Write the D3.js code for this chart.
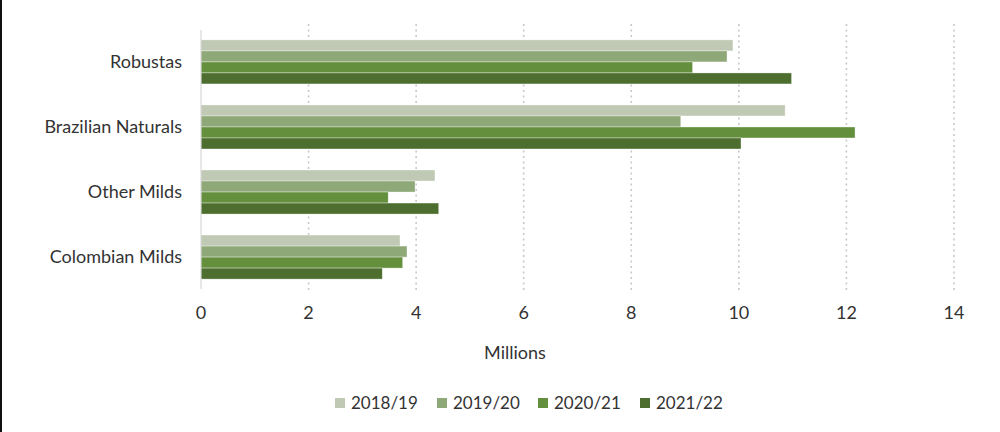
<!DOCTYPE html>
<html><head><meta charset="utf-8">
<script src="https://cdn.jsdelivr.net/npm/d3@7"></script>
<style>
html,body{margin:0;padding:0;background:#fff;}
svg{display:block;font-family:Lato,"Open Sans",sans-serif;}
</style></head>
<body><svg id="c" width="1000" height="432"></svg>
<script>
const categories = ["Robustas","Brazilian Naturals","Other Milds","Colombian Milds"];
const seriesNames = ["2018/19","2019/20","2020/21","2021/22"];
const v2018 = [9.89, 10.86, 4.35, 3.70];
const v2019 = [9.78, 8.92, 3.98, 3.83];
const v2020 = [9.14, 12.16, 3.48, 3.75];
const v2021 = [10.98, 10.04, 4.42, 3.37];
const xTicks = [0,2,4,6,8,10,12,14];
const colors = ["#bfc9b3","#8fa877","#64903e","#4d6e2e"];

const series = [v2018, v2019, v2020, v2021];
const svg = d3.select("#c");
svg.append("rect").attr("x",0).attr("y",0).attr("width",2).attr("height",432).attr("fill","#111");

const x = d3.scaleLinear().domain([0,14]).range([201,954]);
const y = d3.scaleBand().domain(categories).range([29.5,289.5]).paddingInner(0.323).paddingOuter(0.16);
const yi = d3.scaleBand().domain(seriesNames).range([0,y.bandwidth()]);

// gridlines
svg.append("g").selectAll("line").data(xTicks.filter(d=>d>0)).join("line")
  .attr("x1",d=>x(d)).attr("x2",d=>x(d)).attr("y1",24).attr("y2",290)
  .attr("stroke","#c8c8c8").attr("stroke-width",1.6).attr("stroke-dasharray","2,3.5");

// bars
const g = svg.append("g");
categories.forEach((c,ci)=>{
  seriesNames.forEach((s,si)=>{
    g.append("rect").attr("x",x(0)).attr("y",y(c)+yi(s))
      .attr("width",x(series[si][ci])-x(0)).attr("height",yi.bandwidth())
      .attr("fill",colors[si]).attr("stroke","#fff").attr("stroke-opacity",0.6).attr("stroke-width",0.6);
  });
});

// axis line
svg.append("line").attr("x1",x(0)).attr("x2",x(0)).attr("y1",30).attr("y2",289).attr("stroke","#d0d0d0").attr("stroke-width",1);

// y labels
svg.append("g").selectAll("text").data(categories).join("text")
  .attr("x",182).attr("y",d=>y(d)+y.bandwidth()/2).attr("dy","0.35em")
  .attr("text-anchor","end").attr("font-size",18).attr("fill","#333").text(d=>d);

// x tick labels
svg.append("g").selectAll("text").data(xTicks).join("text")
  .attr("x",d=>x(d)).attr("y",313).attr("dy","0.35em").attr("text-anchor","middle")
  .attr("font-size",18).attr("fill","#333").text(d=>d);

svg.append("text").attr("x",515).attr("y",353).attr("dy","0.35em").attr("text-anchor","middle")
  .attr("font-size",18).attr("fill","#333").text("Millions");

// legend
const legX = [335,437,538,640];
const lg = svg.append("g");
seriesNames.forEach((s,i)=>{
  lg.append("rect").attr("x",legX[i]).attr("y",398).attr("width",10).attr("height",10).attr("fill",colors[i]);
  lg.append("text").attr("x",legX[i]+16).attr("y",403).attr("dy","0.35em").attr("font-size",17).attr("fill","#333").text(s);
});
</script></body></html>
